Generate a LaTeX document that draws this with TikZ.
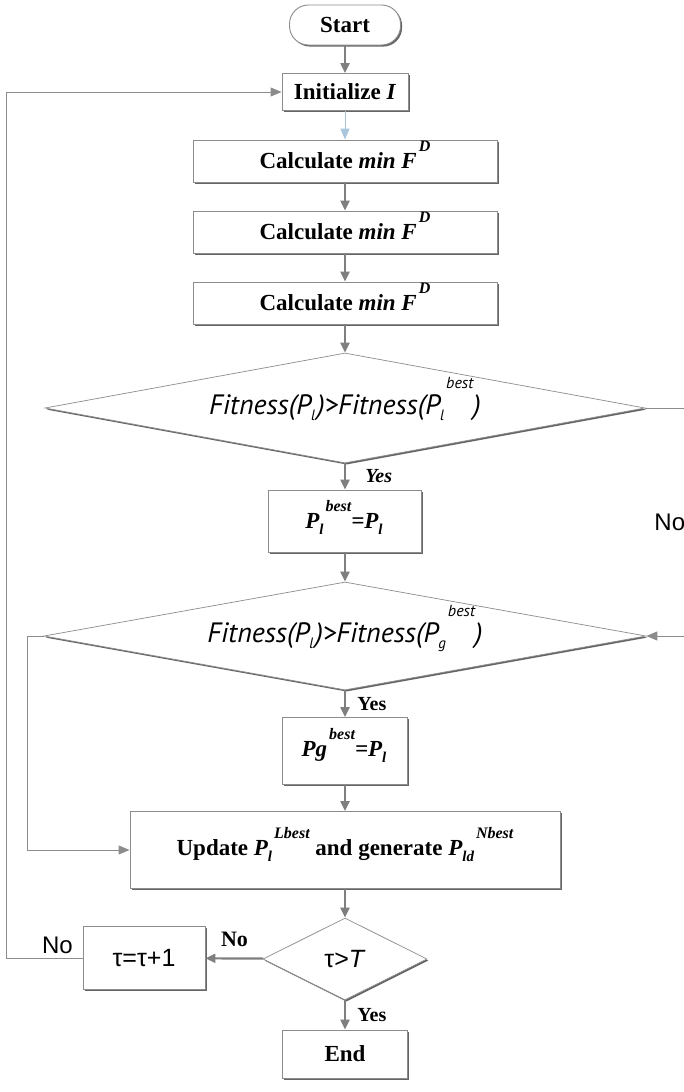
\documentclass[tikz,border=0pt]{standalone}
\usepackage{fontspec}
\setmainfont{Liberation Serif}
\newfontfamily\testfont{PT Sans}
\newfontfamily\labfont{Liberation Sans}
\usetikzlibrary{shapes.geometric, arrows.meta, shadows}
\definecolor{LineGray}{HTML}{8C8C8C}
\definecolor{ArrowGray}{HTML}{7F7F7F}
\definecolor{ShadowGray}{HTML}{555555}
\definecolor{InitBlue}{HTML}{A9C6DC}
% sub- and superscript set apart, superscript lifted high
\newcommand{\hiscript}[3][17pt]{%
  \smash{\raisebox{-6pt}{\fontsize{15}{15}\selectfont #2}}%
  \kern2pt\smash{\raisebox{#1}{\fontsize{16}{16}\selectfont #3}}}
\tikzset{
    % Node styles
    flowbox/.style={
        rectangle,
        draw=LineGray,
        fill=white,
        line width=0.9pt,
        inner sep=0pt,
        drop shadow={shadow xshift=1.6pt, shadow yshift=-1.6pt, fill=ShadowGray, opacity=0.9},
        font=\bfseries\fontsize{23}{27}\selectfont
    },
    termbox/.style={
        flowbox,
        rounded corners=19pt
    },
    testdiamond/.style={
        diamond,
        draw=LineGray,
        fill=white,
        line width=0.7pt,
        inner sep=0pt,
        aspect=5.5,
        drop shadow={shadow xshift=1.4pt, shadow yshift=-1.6pt, fill=ShadowGray, opacity=0.9},
        font=\testfont\itshape\fontsize{28}{32}\selectfont
    },
    % Arrow styles
    flowarrow/.style={
        -{Triangle[length=10pt,width=9pt]},
        line width=2.2pt,
        ArrowGray
    },
    loopline/.style={
        -{Triangle[length=11pt,width=9pt]},
        line width=1pt,
        LineGray
    },
    % Labels
    yeslab/.style={text=black, font=\bfseries\fontsize{20}{22}\selectfont},
    nolab/.style={text=black, font=\labfont\fontsize{24}{26}\selectfont}
}
\begin{document}
\begin{tikzpicture}[x=1pt, y=-1pt]
    \path[use as bounding box, fill=white] (0,0) rectangle (683,1092);

    \node[termbox, minimum width=111pt, minimum height=40pt] (start) at (345,25) {Start};
    \node[flowbox, minimum width=126pt, minimum height=37pt] (init) at (345,92) {Initialize \textit{I}};
    \node[flowbox, minimum width=304pt, minimum height=42pt] (calcA) at (345,161) {Calculate \textit{min F\hiscript{}{D}}};
    \node[flowbox, minimum width=304pt, minimum height=42pt] (calcB) at (345,232) {Calculate \textit{min F\hiscript{}{D}}};
    \node[flowbox, minimum width=304pt, minimum height=42pt] (calcC) at (345,303) {Calculate \textit{min F\hiscript{}{D}}};
    \node[testdiamond, minimum width=600pt, minimum height=110pt] (fitA) at (345,408)
        {Fitness(P\hiscript{l}{})>Fitness(P\hiscript[26pt]{l}{best})};
    \node[flowbox, minimum width=153pt, minimum height=62pt] (pbest) at (345,521) {\textit{P\hiscript{l}{best}=P\hiscript{l}{}}};
    \node[testdiamond, minimum width=602pt, minimum height=108pt] (fitB) at (345,636)
        {Fitness(P\hiscript{l}{})>Fitness(P\hiscript[26pt]{g}{best})};
    \node[flowbox, minimum width=125pt, minimum height=67pt] (gbest) at (345,751) {\textit{Pg\hiscript{}{best}=P\hiscript{l}{}}};
    \node[flowbox, minimum width=430pt, minimum height=77pt] (update) at (345,850)
        {Update \textit{P\hiscript{l}{Lbest}} and generate \textit{P\hiscript{ld}{Nbest}}};
    \node[testdiamond, aspect=2, minimum width=164pt, minimum height=82pt, font=\labfont\fontsize{25}{29}\selectfont] (stop) at (345,959) {τ>\textit{T}};
    \node[flowbox, minimum width=122pt, minimum height=63pt, font=\labfont\fontsize{25}{29}\selectfont] (inc) at (144,958) {τ=τ+1};
    \node[flowbox, minimum width=125pt, minimum height=48pt] (endbox) at (345,1054) {End};

    \draw[flowarrow] (start) -- (init);
    \draw[loopline, InitBlue] (init) -- (calcA);
    \draw[flowarrow] (calcA) -- (calcB);
    \draw[flowarrow] (calcB) -- (calcC);
    \draw[flowarrow] (calcC) -- (fitA);
    \draw[flowarrow] (fitA) -- node[yeslab, font=\bfseries\itshape\fontsize{20}{22}\selectfont, right=16pt]{Yes} (pbest);
    \draw[flowarrow] (pbest) -- (fitB);
    \draw[loopline] (fitA.east) -- (692,408) |- node[nolab, pos=0.25, left=3pt]{No} (fitB.east);
    \draw[flowarrow] (fitB) -- node[yeslab, right=8pt]{Yes} (gbest);
    \draw[loopline] (fitB.west) -- ++(-16,0) |- (update.west);
    \draw[flowarrow] (gbest) -- (update);
    \draw[flowarrow] (update) -- (stop);
    \draw[flowarrow] (stop) -- node[yeslab, right=8pt]{Yes} (endbox);
    \draw[flowarrow] (stop) -- node[yeslab, font=\bfseries\fontsize{22}{24}\selectfont, above=7pt]{No} (inc);
    \draw[loopline] (inc.west) -- node[nolab, pos=0.33, above]{No} ++(-76,0) |- (init.west);
\end{tikzpicture}
\end{document}
